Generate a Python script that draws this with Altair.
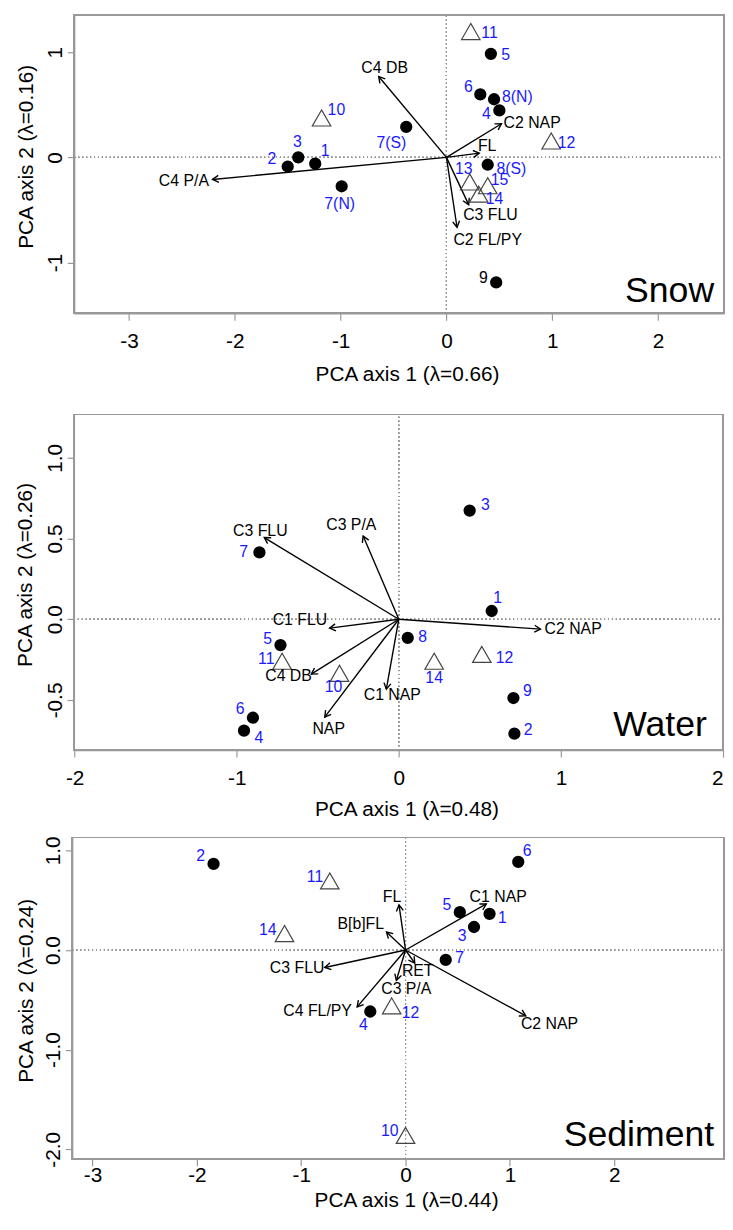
import altair as alt
import pandas as pd

FONT = "Liberation Sans"
BLUE = "#1a1aff"
GRAY = "#999999"
MINUS = "\u2212"

# ---------------- Snow ----------------
snow_sites = ["1", "2", "3", "4", "5", "6", "7(N)", "7(S)", "8(N)", "8(S)", "9",
              "10", "11", "12", "13", "14", "15"]
snow_kind = ["circle"] * 11 + ["triangle"] * 6
snow_x = [-1.24, -1.50, -1.40, 0.50, 0.42, 0.32, -0.99, -0.38, 0.45, 0.39, 0.47,
          -1.18, 0.23, 0.99, 0.22, 0.305, 0.39]
snow_y = [-0.06, -0.087, 0.0, 0.447, 0.985, 0.60, -0.275, 0.29, 0.553, -0.07, -1.19,
          0.375, 1.197, 0.156, -0.234, -0.35, -0.27]
snow_vars = ["C4 P/A", "C4 DB", "C2 NAP", "FL", "C3 FLU", "C2 FL/PY"]
snow_vx = [-2.21, -0.64, 0.52, 0.31, 0.21, 0.10]
snow_vy = [-0.21, 0.77, 0.32, 0.04, -0.45, -0.665]

# ---------------- Water ----------------
water_sites = ["1", "2", "3", "4", "5", "6", "7", "8", "9", "10", "11", "12", "14"]
water_kind = ["circle"] * 9 + ["triangle"] * 4
water_x = [0.573, 0.713, 0.437, -0.955, -0.73, -0.90, -0.86, 0.055, 0.707,
           -0.366, -0.72, 0.512, 0.218]
water_y = [0.051, -0.709, 0.673, -0.69, -0.16, -0.61, 0.414, -0.116, -0.488,
           -0.335, -0.26, -0.218, -0.26]
water_vars = ["C3 FLU", "C3 P/A", "C1 FLU", "C4 DB", "NAP", "C1 NAP", "C2 NAP"]
water_vx = [-0.83, -0.22, -0.427, -0.54, -0.457, -0.077, 0.874]
water_vy = [0.506, 0.516, -0.055, -0.34, -0.606, -0.433, -0.061]

# ---------------- Sediment ----------------
sed_sites = ["1", "2", "3", "4", "5", "6", "7", "10", "11", "12", "14"]
sed_kind = ["circle"] * 7 + ["triangle"] * 4
sed_x = [0.805, -1.84, 0.656, -0.338, 0.52, 1.08, 0.385, 0.0, -0.726, -0.133, -1.16]
sed_y = [0.363, 0.864, 0.231, -0.617, 0.38, 0.884, -0.099, -1.86, 0.693, -0.56, 0.165]
sed_vars = ["C3 FLU", "C4 FL/PY", "B[b]FL", "FL", "C1 NAP", "RET", "C3 P/A", "C2 NAP"]
sed_vx = [-0.774, -0.464, -0.183, -0.063, 0.774, 0.088, -0.088, 1.152]
sed_vy = [-0.175, -0.571, 0.181, 0.452, 0.462, -0.132, -0.304, -0.660]

# ---- label placement (pixel offsets of label centre from its point / arrow tip) ----
snow_site_off = [(10, -13), (-16, -8), (-1, -15), (-13, 4), (15, 1), (-12, -7), (-2, 18),
                 (-15, 16), (23.5, -2), (24, 4), (-13, -4), (15, -8), (19, 2), (15.5, 2),
                 (-6, -13), (16, 5), (12, -6)]
snow_black_labels = ["9"]
snow_var_off = [(-29, 2), (6, -8), (31, -1), (8, -7), (22, 11), (31, 13)]

water_site_off = [(6, -13), (14, -4), (16, -6), (15, 7), (-13, -6), (-13, -9), (-16, 0),
                  (15, -1), (14, -7), (-6, 14), (-16, -2), (23, 4), (0, 17)]
water_var_off = [(-4, -7), (-12, -11), (-30, -8), (-23, 2), (4, 12), (6, 6), (33, 0)]

sed_site_off = [(13, 4), (-13, -8), (-12, 9), (-7, 14), (-13, -7), (9, -11), (14, -2),
                (-16, -4), (-15, -4), (19, 7), (-17, -4)]
sed_var_off = [(-28, 1), (-40, 4), (-26, -8), (-7, -8), (12, -7), (3, 8), (10, 9), (24, 8)]

# ---- panel placement inside one fixed-size view (fits the page without scrolling) ----
VIEW_W, VIEW_H = 725, 1210


def make_panel(sites, kind, sx, sy, soff, black, vars_, vx, vy, voff,
               xdom, ydom, xr, yr, xticks, yticks, ydec, xtitle, ytitle, name,
               name_dx, name_dy, xlabpad, xtitleY, ytitleX, xflush):
    kx = (xr[1] - xr[0]) / (xdom[1] - xdom[0])
    ky = (yr[0] - yr[1]) / (ydom[1] - ydom[0])
    pts = pd.DataFrame({
        "site": sites, "kind": kind, "x": sx, "y": sy,
        "odx": [o[0] for o in soff], "ody": [o[1] for o in soff],
        "lc": ["black" if s in black else BLUE for s in sites],
    })
    vec = pd.DataFrame({
        "var": vars_, "vx": vx, "vy": vy,
        "odx": [o[0] for o in voff], "ody": [o[1] for o in voff],
    })
    xs = alt.Scale(domain=xdom, range=xr, nice=False, zero=False)
    ys = alt.Scale(domain=ydom, range=yr, nice=False, zero=False)
    yfmt = ".1f" if ydec else "d"
    xaxis = alt.Axis(orient="bottom", offset=yr[0] - VIEW_H,
                     values=xticks, title=xtitle, grid=False, tickSize=7,
                     labelExpr=f"replace(format(datum.value, 'd'), '{MINUS}', '-')",
                     labelBaseline="alphabetic", labelPadding=xlabpad,
                     labelFlush=xflush, labelOverlap=False,
                     titleX=(xr[0] + xr[1]) / 2 + 8, titleY=xtitleY,
                     titleAlign="center", titleBaseline="alphabetic")
    yaxis = alt.Axis(orient="left", offset=-xr[0],
                     values=yticks, title=ytitle, grid=False, tickSize=7,
                     labelExpr=f"replace(format(datum.value, '{yfmt}'), '{MINUS}', '-')",
                     labelAngle=270, labelAlign="center", labelBaseline="alphabetic",
                     labelPadding=6, labelFlush=False, labelOverlap=False,
                     titleAngle=270, titleX=ytitleX, titleY=(yr[0] + yr[1]) / 2 - 8,
                     titleAlign="center", titleBaseline="alphabetic")

    def X(f):
        return alt.X(f, scale=xs, axis=xaxis)

    def Y(f):
        return alt.Y(f, scale=ys, axis=yaxis)

    base = alt.Chart(pts)
    frame = base.mark_rect(fillOpacity=0, stroke=GRAY, strokeWidth=1.2).encode(
        x=alt.datum(xdom[0], scale=xs, axis=xaxis), x2=alt.datum(xdom[1]),
        y=alt.datum(ydom[0], scale=ys, axis=yaxis), y2=alt.datum(ydom[1]))
    vline = base.mark_rule(color=GRAY, strokeDash=[1, 3], strokeWidth=1).encode(
        x=alt.datum(0, scale=xs, axis=xaxis),
        y=alt.datum(ydom[0], scale=ys, axis=yaxis), y2=alt.datum(ydom[1]))
    hline = base.mark_rule(color=GRAY, strokeDash=[1, 3], strokeWidth=1).encode(
        y=alt.datum(0, scale=ys, axis=yaxis),
        x=alt.datum(xdom[0], scale=xs, axis=xaxis), x2=alt.datum(xdom[1]))

    vb = alt.Chart(vec).transform_calculate(
        zero="0",
        ang=f"(atan2(datum.vx * {kx}, datum.vy * {ky}) * 180 / PI + 360) % 360",
        lx=f"datum.vx + datum.odx / {kx}",
        ly=f"datum.vy - datum.ody / {ky}",
    )
    shafts = vb.mark_rule(color="black", strokeWidth=1.4).encode(
        x=X("zero:Q"), y=Y("zero:Q"), x2="vx:Q", y2="vy:Q")
    heads = vb.mark_point(shape="M-0.5,0.866L0,0L0.5,0.866", filled=False,
                          color="black", strokeWidth=1.4, size=196, opacity=1).encode(
        x=X("vx:Q"), y=Y("vy:Q"), angle=alt.Angle("ang:Q", scale=None))
    vlabels = vb.mark_text(font=FONT, fontSize=16, color="black",
                           align="center", baseline="middle").encode(
        x=X("lx:Q"), y=Y("ly:Q"), text="var:N")

    circles = base.transform_filter("datum.kind == 'circle'").mark_point(
        shape="circle", filled=True, color="black", size=154, opacity=1).encode(
        x=X("x:Q"), y=Y("y:Q"))
    tris = base.transform_filter("datum.kind == 'triangle'").mark_point(
        shape="triangle-up", filled=False, color="#444444", strokeWidth=1.2,
        size=350, opacity=1).encode(x=X("x:Q"), y=Y("y:Q"))
    slabels = base.transform_calculate(
        lx=f"datum.x + datum.odx / {kx}",
        ly=f"datum.y - datum.ody / {ky}",
    ).mark_text(font=FONT, fontSize=16, align="center", baseline="middle").encode(
        x=X("lx:Q"), y=Y("ly:Q"),
        text="site:N", color=alt.Color("lc:N", scale=None))
    title = alt.Chart(pd.DataFrame({"t": [name]})).mark_text(
        font=FONT, fontSize=36, align="right", baseline="alphabetic", color="black").encode(
        x=alt.value(xr[0] + name_dx), y=alt.value(yr[1] + name_dy), text="t:N")

    return alt.layer(frame, vline, hline, shafts, heads, tris, circles, slabels, vlabels,
                     title)


snow = make_panel(snow_sites, snow_kind, snow_x, snow_y, snow_site_off, snow_black_labels,
                  snow_vars, snow_vx, snow_vy, snow_var_off,
                  [-3.517, 2.623], [-1.484, 1.353], [67, 724], [302, 0.5],
                  [-3, -2, -1, 0, 1, 2], [-1, 0, 1], False,
                  "PCA axis 1 (\u03bb=0.66)", "PCA axis 2 (\u03bb=0.16)", "Snow",
                  647, 290, 28, 68, -42, False)
water = make_panel(water_sites, water_kind, water_x, water_y, water_site_off, [],
                   water_vars, water_vx, water_vy, water_var_off,
                   [-2.004, 2.0], [-0.811, 1.268], [66.7, 723], [743.7, 404.3],
                   [-2, -1, 0, 1, 2], [-0.5, 0.0, 0.5, 1.0], True,
                   "PCA axis 1 (\u03bb=0.48)", "PCA axis 2 (\u03bb=0.26)", "Water",
                   640, 325, 28, 66, -43, 0.3)
sed = make_panel(sed_sites, sed_kind, sed_x, sed_y, sed_site_off, [],
                 sed_vars, sed_vx, sed_vy, sed_var_off,
                 [-3.194, 3.052], [-2.096, 1.129], [65, 724], [1157, 832],
                 [-3, -2, -1, 0, 1, 2], [-2.0, -1.0, 0.0, 1.0], True,
                 "PCA axis 1 (\u03bb=0.44)", "PCA axis 2 (\u03bb=0.24)", "Sediment",
                 649, 312, 16, 48, -40, False)

chart = alt.layer(snow, water, sed).resolve_scale(
    x="independent", y="independent"
).properties(
    width=VIEW_W, height=VIEW_H,
    autosize=alt.AutoSizeParams(type="none"),
    padding=0,
).configure_view(stroke=None).configure_axis(
    domainColor=GRAY, tickColor=GRAY, labelColor="black", titleColor="black",
    labelFont=FONT, titleFont=FONT, labelFontSize=21, titleFontSize=21,
    titleFontWeight="normal", domainWidth=1.2, tickWidth=1.2
).configure_text(font=FONT)

chart.save("out.html", embed_options={"renderer": "svg", "actions": False})
